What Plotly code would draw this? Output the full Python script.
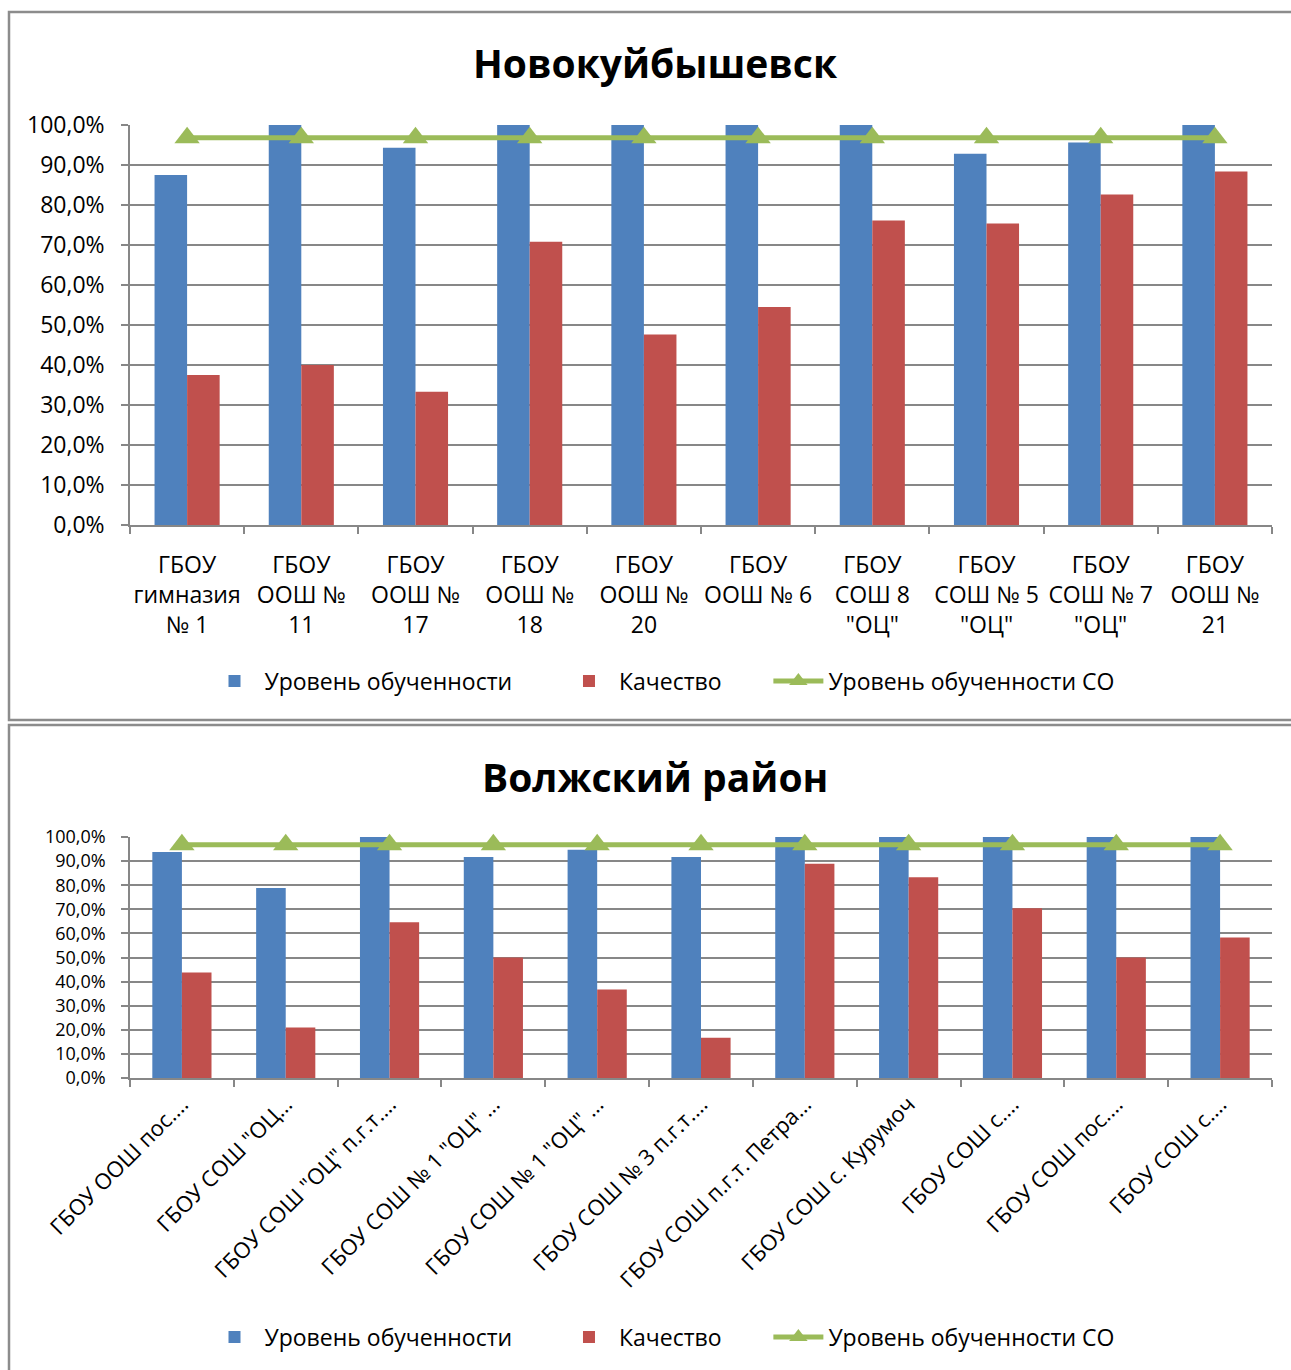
import plotly.graph_objects as go

W, H = 1291, 1370

# ---------------- data ----------------
top_title = "Новокуйбышевск"
top_categories = [
    "ГБОУ<br>гимназия<br>№ 1", "ГБОУ<br>ООШ №<br>11", "ГБОУ<br>ООШ №<br>17",
    "ГБОУ<br>ООШ №<br>18", "ГБОУ<br>ООШ №<br>20", "ГБОУ<br>ООШ № 6",
    "ГБОУ<br>СОШ 8<br>\"ОЦ\"", "ГБОУ<br>СОШ № 5<br>\"ОЦ\"", "ГБОУ<br>СОШ № 7<br>\"ОЦ\"",
    "ГБОУ<br>ООШ №<br>21",
]
top_level = [0.875, 1.0, 0.943, 1.0, 1.0, 1.0, 1.0, 0.928, 0.956, 1.0]
top_quality = [0.375, 0.400, 0.333, 0.708, 0.476, 0.545, 0.761, 0.754, 0.826, 0.884]
top_region = [0.968, 0.968, 0.968, 0.968, 0.968, 0.968, 0.968, 0.968, 0.968, 0.968]

bot_title = "Волжский район"
bot_categories = [
    "ГБОУ ООШ пос.…", "ГБОУ СОШ \"ОЦ…", "ГБОУ СОШ \"ОЦ\" п.г.т.…",
    "ГБОУ СОШ № 1 \"ОЦ\" …", "ГБОУ СОШ № 1 \"ОЦ\" …", "ГБОУ СОШ № 3 п.г.т.…",
    "ГБОУ СОШ п.г.т. Петра…", "ГБОУ СОШ с. Курумоч", "ГБОУ СОШ с.…",
    "ГБОУ СОШ пос.…", "ГБОУ СОШ с.…",
]
bot_level = [0.938, 0.788, 1.0, 0.917, 0.947, 0.917, 1.0, 1.0, 1.0, 1.0, 1.0]
bot_quality = [0.4375, 0.210, 0.646, 0.500, 0.367, 0.167, 0.889, 0.833, 0.704, 0.500, 0.583]
bot_region = [0.968, 0.968, 0.968, 0.968, 0.968, 0.968, 0.968, 0.968, 0.968, 0.968, 0.968]

series_names = ["Уровень обученности", "Качество", "Уровень обученности СО"]
y_ticks = [0.0, 0.1, 0.2, 0.3, 0.4, 0.5, 0.6, 0.7, 0.8, 0.9, 1.0]

# ---------------- styles ----------------
BLUE, RED, GREEN = "#4F81BD", "#C0504D", "#9BBB59"
GRID = "#878787"
FONT = "Open Sans"
NB = "\u00a0"
# trailing non-breaking spaces only widen the gap between legend entries
legend_pad = [NB * 7, NB * 7, ""]


def px_x(p):
    return p / W


def px_y(p):
    return 1 - p / H


fig = go.Figure()


def add_chart(cats, level, quality, region, xa, ya, legend):
    xs = list(range(len(cats)))
    fig.add_trace(go.Bar(x=xs, y=level, name=series_names[0] + legend_pad[0], marker_color=BLUE,
                         marker_line_width=0, xaxis=xa, yaxis=ya, legend=legend))
    fig.add_trace(go.Bar(x=xs, y=quality, name=series_names[1] + legend_pad[1], marker_color=RED,
                         marker_line_width=0, xaxis=xa, yaxis=ya, legend=legend))
    fig.add_trace(go.Scatter(x=xs, y=region, name=series_names[2] + legend_pad[2],
                             mode="lines+markers",
                             line=dict(color=GREEN, width=5),
                             marker=dict(symbol="triangle-up", size=22, color=GREEN),
                             cliponaxis=False, xaxis=xa, yaxis=ya, legend=legend))


add_chart(top_categories, top_level, top_quality, top_region, "x", "y", "legend")
add_chart(bot_categories, bot_level, bot_quality, bot_region, "x2", "y2", "legend2")


def xaxis_cfg(cats, anchor, angle, standoff, fsize):
    n = len(cats)
    return dict(
        domain=[px_x(130), px_x(1272)],
        range=[-0.5, n - 0.5],
        tickmode="array", tickvals=list(range(n)), ticktext=cats,
        ticks="", tickangle=angle, ticklabelstandoff=standoff,
        showgrid=False, zeroline=False, automargin=False,
        showline=True, linecolor=GRID, linewidth=1.5,
        tickfont=dict(family=FONT, size=fsize, color="black"),
        minor=dict(tickmode="array", tickvals=[i - 0.5 for i in range(n + 1)],
                   ticks="outside", ticklen=7, tickwidth=1.5, tickcolor=GRID, showgrid=False),
        anchor=anchor, fixedrange=True,
    )


def yaxis_cfg(y0, y1, anchor, fsize):
    return dict(
        domain=[px_y(y1), px_y(y0)],
        range=[0, 1],
        tickmode="array", tickvals=y_ticks, tickformat=".1%",
        ticks="outside", ticklen=7, tickwidth=1.5, tickcolor=GRID,
        ticklabelstandoff=12,
        showgrid=True, gridcolor=GRID, gridwidth=1.5,
        zeroline=False, showline=True, linecolor=GRID, linewidth=1.5,
        automargin=False,
        tickfont=dict(family=FONT, size=fsize, color="black"),
        anchor=anchor, fixedrange=True,
    )


legend_common = dict(orientation="h", x=px_x(662), xanchor="center", yanchor="middle",
                     font=dict(family=FONT, size=23, color="black"),
                     itemwidth=50, bgcolor="rgba(0,0,0,0)", traceorder="normal")

fig.update_layout(
    width=W, height=H,
    margin=dict(l=0, r=0, t=0, b=0, autoexpand=False),
    paper_bgcolor="white", plot_bgcolor="white",
    separators=", ",
    barmode="group", bargap=0.43, bargroupgap=0,
    font=dict(family=FONT, size=23, color="black"),
    xaxis=xaxis_cfg(top_categories, "y", 0, 19, 23),
    yaxis=yaxis_cfg(125, 525, "x", 23),
    xaxis2=xaxis_cfg(bot_categories, "y2", -45, 3, 22),
    yaxis2=yaxis_cfg(837, 1078, "x2", 18),
    legend=dict(y=px_y(681), **legend_common),
    legend2=dict(y=px_y(1337), **legend_common),
    annotations=[
        dict(text="<b>%s</b>" % top_title, x=px_x(655), y=px_y(63), xref="paper", yref="paper",
             showarrow=False, xanchor="center", yanchor="middle",
             font=dict(family=FONT, size=39, color="black")),
        dict(text="<b>%s</b>" % bot_title, x=px_x(655), y=px_y(776), xref="paper", yref="paper",
             showarrow=False, xanchor="center", yanchor="middle",
             font=dict(family=FONT, size=39, color="black")),
    ],
    shapes=[
        dict(type="rect", xref="paper", yref="paper", x0=px_x(9), x1=1.02,
             y0=px_y(720), y1=px_y(12), line=dict(color="#8c8c8c", width=2.5)),
        dict(type="rect", xref="paper", yref="paper", x0=px_x(9), x1=1.02,
             y0=-0.02, y1=px_y(725), line=dict(color="#8c8c8c", width=2.5)),
    ],
    showlegend=True,
)

fig.write_html("out.html", config={"displayModeBar": False},
               post_script="document.body.style.margin='0';")
